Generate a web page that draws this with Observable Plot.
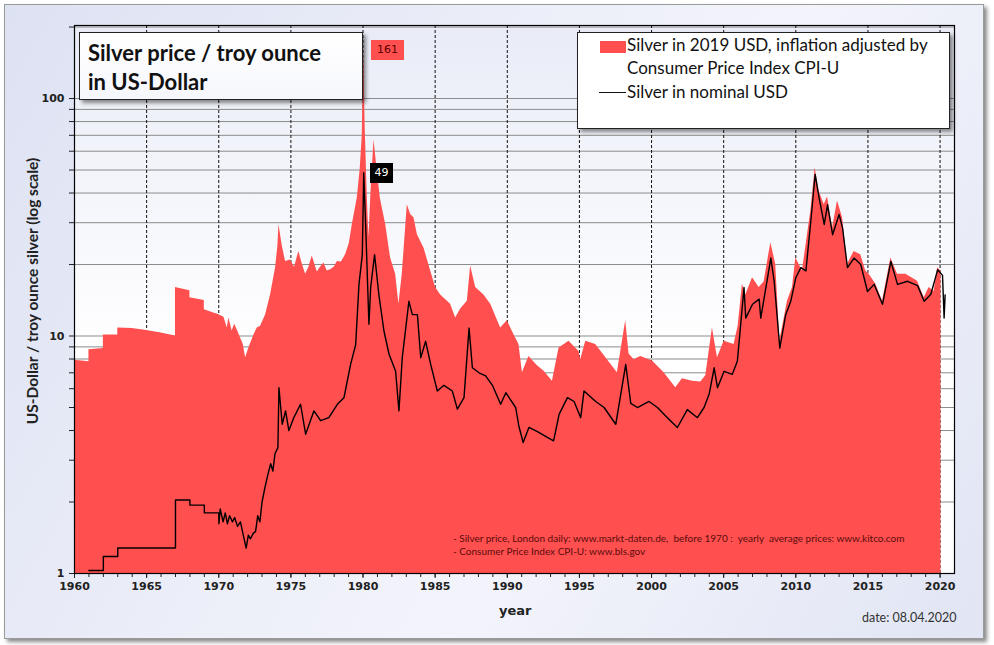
<!DOCTYPE html>
<html>
<head>
<meta charset="utf-8">
<script src="https://cdn.jsdelivr.net/npm/d3@7"></script>
<script src="https://cdn.jsdelivr.net/npm/@observablehq/plot@0.6"></script>
<style>
  body { margin: 0; background: #fff; font-family: Lato, "Open Sans", sans-serif; }
  #page { position: relative; width: 994px; height: 645px; overflow: hidden; }
  #frame {
    position: absolute; left: 4px; top: 4px; width: 978px; height: 633px;
    border: 1px solid #9a9a9a; box-shadow: 3px 3px 4px #8a8a8a;
    background: linear-gradient(120deg, #dde2f3 0%, #eef0f9 45%, #f3f4fb 60%, #e1e5f4 100%);
  }
  #plotbg {
    position: absolute; left: 74px; top: 25px; width: 880px; height: 548px;
    background: linear-gradient(180deg, #e9ecf7 0%, #f6f7fc 35%, #ffffff 60%);
  }
  #chart { position: absolute; left: 0; top: 0; }
  .box {
    position: absolute; background: linear-gradient(180deg, #ffffff, #f6f7fc);
    border: 1px solid #222; box-shadow: 3px 3px 4px rgba(0,0,0,0.45);
  }
  #title { left: 79px; top: 32px; width: 282px; height: 66px; }
  #title div { position: absolute; left: 8px; font: bold 22px Lato, sans-serif; color: #111; white-space: nowrap; }
  #legend { left: 577px; top: 32px; width: 371px; height: 95px; background: #fff; }
  #legend .t { position: absolute; left: 49px; font: 17px Lato, sans-serif; color: #111; white-space: nowrap; }
  .tag { position: absolute; font: 11px "DejaVu Sans", sans-serif; text-align: center; }
  #note { position: absolute; left: 453px; top: 532px; font: 10px Lato, sans-serif; color: #5a0c0c; line-height: 13px; white-space: nowrap; }
  #date { position: absolute; left: 862px; top: 610px; font: 12.5px Lato, sans-serif; color: #333; }
  #xlab { position: absolute; left: 499px; top: 603px; font: bold 13px "DejaVu Sans", sans-serif; color: #222; }
  #ylab { position: absolute; left: 32px; top: 291px; transform: translate(-50%, -50%) rotate(-90deg);
          white-space: nowrap; font: bold 15.5px Lato, sans-serif; color: #222; }
</style>
</head>
<body>
<div id="page">
  <div id="frame"></div>
  <div id="plotbg"></div>
  <div id="chart"></div>
  <div id="title" class="box">
    <div style="top:6px">Silver price / troy ounce</div>
    <div style="top:35px">in US-Dollar</div>
  </div>
  <div id="legend" class="box">
    <div style="position:absolute;left:22px;top:8px;width:26px;height:12px;background:#ff4f4f"></div>
    <div class="t" style="top:1px">Silver in 2019 USD, inflation adjusted by</div>
    <div class="t" style="top:24px">Consumer Price Index CPI-U</div>
    <div style="position:absolute;left:21px;top:59px;width:27px;height:1px;background:#111"></div>
    <div class="t" style="top:48px">Silver in nominal USD</div>
  </div>
  <div class="tag" style="left:371px;top:40px;width:33px;height:20px;line-height:20px;background:#ff4f4f;color:#5a0000">161</div>
  <div class="tag" style="left:370px;top:163px;width:23px;height:20px;line-height:20px;background:#000;color:#fff">49</div>
  <div id="note">- Silver price, London daily: www.markt-daten.de,&nbsp; before 1970 :&nbsp; yearly&nbsp; average prices: www.kitco.com<br>- Consumer Price Index CPI-U: www.bls.gov</div>
  <div id="xlab">year</div>
  <div id="ylab">US-Dollar / troy ounce silver (log scale)</div>
  <div id="date">date: 08.04.2020</div>
</div>
<script>
// Silber, inflationsbereinigt (2019 USD)
const realYear = [
  1960.0, 1961.0, 1961.0, 1962.0, 1962.0, 1963.0, 1963.0, 1964.0, 1965.0, 1966.0, 1967.0, 1967.0, 1968.0, 1968.0, 1969.0, 1969.0,
  1970.0, 1970.36, 1970.59, 1970.7, 1970.93, 1971.1, 1971.28, 1971.51, 1971.7, 1971.86, 1972.09, 1972.44, 1972.67, 1972.9,
  1973.25, 1973.59, 1973.94, 1974.1, 1974.17, 1974.4, 1974.63, 1974.98, 1975.25, 1975.55, 1975.8, 1976.02, 1976.25, 1976.48,
  1976.83, 1977.05, 1977.29, 1977.52, 1977.75, 1978.0, 1978.22, 1978.5, 1978.79, 1979.05, 1979.26, 1979.6, 1979.8, 1979.95,
  1980.05, 1980.15, 1980.3, 1980.41, 1980.55, 1980.76, 1980.95, 1981.2, 1981.57, 1981.91, 1982.26, 1982.49, 1982.72, 1983.07,
  1983.3, 1983.53, 1983.77, 1984.23, 1984.69, 1985.03, 1985.38, 1986.07, 1986.42, 1986.77, 1987.23, 1987.46, 1987.81, 1988.38,
  1988.85, 1989.54, 1990.0, 1990.47, 1990.81, 1991.05, 1991.5, 1992.09, 1992.55, 1993.13, 1993.59, 1994.28, 1994.97, 1995.09,
  1995.44, 1996.13, 1996.94, 1997.63, 1998.21, 1998.44, 1998.79, 1999.25, 2000.06, 2000.87, 2001.68, 2002.14, 2002.84, 2003.41,
  2003.76, 2004.22, 2004.57, 2005.03, 2005.72, 2006.0, 2006.3, 2006.53, 2007.0, 2007.46, 2007.8, 2008.27, 2008.61, 2008.89,
  2009.42, 2009.77, 2010.0, 2010.46, 2010.81, 2011.04, 2011.34, 2011.62, 2011.97, 2012.2, 2012.55, 2012.89, 2013.24, 2013.58,
  2014.04, 2014.5, 2014.85, 2015.08, 2015.55, 2016.01, 2016.59, 2017.05, 2017.63, 2018.44, 2018.9, 2019.24, 2019.59, 2019.83,
  2020.06
]
const realPrice = [
  7.9, 7.8, 8.75, 8.85, 10.1, 10.1, 10.8, 10.75, 10.55, 10.3, 10.0, 16.0, 15.5, 14.5, 14.1, 12.9,
  12.3, 12.0, 10.8, 11.9, 10.5, 11.2, 10.6, 9.8, 9.2, 8.1, 8.9, 10.1, 10.8, 11.0,
  12.3, 14.9, 19.4, 24, 29.5, 24, 20.6, 20.9, 19.5, 22.7, 20, 18.2, 19.5, 21.7,
  18.6, 19.5, 20.3, 18.8, 19, 19.5, 20.6, 20.5, 22, 24.5, 29.5, 38, 50, 70,
  161, 75, 38, 26, 40, 67, 52, 38, 29.5, 21.3, 18.2, 13.6, 18.2, 35.7,
  32.5, 31.5, 26.7, 23.4, 18.8, 16, 14.9, 13.6, 11.9, 13, 14, 19.7, 16, 14.9,
  13.6, 10.8, 11.6, 10.1, 9.2, 7.0, 8.2, 7.5, 7.1, 6.45, 8.9, 9.5, 8.6, 7.95,
  9.5, 9.2, 7.95, 7.0, 11.6, 8.4, 7.95, 8.2, 7.85, 7.0, 6.06, 6.6, 6.45, 6.4,
  6.8, 10.8, 8.1, 9.5, 9.2, 11, 16.5, 14.9, 17.6, 16, 16.9, 24.7, 20.0, 9.5,
  14, 16, 21.3, 18.8, 26.7, 33.5, 51, 40.6, 35.7, 38.5, 28.5, 37, 31.5, 20,
  22.7, 22, 18.8, 18.2, 16.5, 14, 21.3, 18.2, 18.2, 17.0, 14.5, 16, 15.4, 19.4,
  18.8
]

// Silber nominal USD
const nomYear = [
  1961.0, 1962.0, 1962.0, 1963.0, 1963.0, 1967.0, 1967.0, 1968.0, 1968.0, 1969.0, 1969.0, 1970.0,
  1970.01, 1970.1, 1970.3, 1970.45, 1970.6, 1970.75, 1970.95, 1971.1, 1971.3, 1971.5, 1971.7, 1971.9,
  1972.05, 1972.2, 1972.4, 1972.55, 1972.7, 1972.85, 1973.0, 1973.2, 1973.4, 1973.6, 1973.75, 1973.9,
  1974.1, 1974.17, 1974.4, 1974.63, 1974.86, 1975.2, 1975.67, 1976.02, 1976.6, 1977.06, 1977.63, 1978.22,
  1978.68, 1979.14, 1979.49, 1979.72, 1979.95, 1980.05, 1980.18, 1980.41, 1980.53, 1980.8, 1981.1, 1981.45,
  1981.8, 1982.26, 1982.49, 1982.72, 1983.18, 1983.42, 1983.77, 1984.0, 1984.34, 1984.69, 1985.15, 1985.61,
  1986.19, 1986.54, 1987.0, 1987.35, 1987.58, 1988.04, 1988.5, 1988.97, 1989.54, 1989.9, 1990.58, 1990.8,
  1991.1, 1991.5, 1992.09, 1992.78, 1993.21, 1993.59, 1994.17, 1994.63, 1995.09, 1995.32, 1996.13, 1996.71,
  1997.52, 1998.21, 1998.56, 1999.02, 1999.83, 2000.41, 2001.1, 2001.79, 2002.48, 2003.18, 2003.64, 2003.99,
  2004.34, 2004.57, 2005.03, 2005.6, 2005.95, 2006.41, 2006.53, 2007.0, 2007.46, 2007.57, 2008.27, 2008.5,
  2008.89, 2009.3, 2009.65, 2010.0, 2010.35, 2010.7, 2011.04, 2011.34, 2011.62, 2011.97, 2012.2, 2012.55,
  2013.0, 2013.24, 2013.58, 2014.04, 2014.5, 2014.97, 2015.43, 2016.01, 2016.59, 2017.05, 2017.75, 2018.44,
  2018.9, 2019.36, 2019.83, 2020.17, 2020.28, 2020.35
]
const nomPrice = [
  1.03, 1.03, 1.18, 1.18, 1.28, 1.28, 2.04, 2.04, 1.94, 1.94, 1.80, 1.80,
  1.62, 1.87, 1.65, 1.8, 1.62, 1.75, 1.65, 1.72, 1.58, 1.65, 1.45, 1.28,
  1.45, 1.4, 1.48, 1.5, 1.75, 1.65, 2.0, 2.3, 2.6, 2.9, 2.7, 3.2,
  3.39, 6.06, 4.25, 4.84, 4.0, 4.53, 5.16, 3.86, 4.84, 4.4, 4.53, 5.16,
  5.5, 7.6, 9.2, 16.5, 22, 48.7, 29.5, 11.2, 16, 22, 14.9, 10.5,
  8.4, 7.1, 4.84, 8.1, 14, 12.3, 12.3, 8.1, 9.5, 7.6, 5.87, 6.2,
  5.87, 4.92, 5.5, 10.8, 7.35, 7.0, 6.8, 6.2, 5.16, 5.77, 5.0, 4.18,
  3.56, 4.12, 3.96, 3.74, 3.62, 4.68, 5.5, 5.3, 4.53, 5.87, 5.3, 5.0,
  4.25, 7.6, 5.2, 5.0, 5.3, 5.0, 4.53, 4.12, 4.9, 4.53, 5.0, 5.68,
  7.35, 6.06, 7.1, 6.9, 7.85, 16, 11.9, 13.6, 14.3, 11.9, 21.3, 17,
  8.9, 12.3, 14, 17.6, 19.4, 18.8, 30.5, 47.9, 38, 29.5, 35.7, 26.7,
  32.5, 28.5, 19.4, 21.3, 20, 15.4, 16.5, 13.6, 20.6, 16.5, 17, 16.3,
  14, 15, 19, 18, 11.9, 14.9
]

// Achsen
const yearTicks = d3.range(1960, 2021)
const yearLabels = d3.range(1960, 2021, 5)
const dashedYears = d3.range(1965, 2021, 5)
const yLabels = [1, 10, 100]
const yMinor = [2, 3, 4, 5, 6, 7, 8, 9, 20, 30, 40, 50, 60, 70, 80, 90, 200]
const yGrid = [2, 3, 4, 5, 6, 7, 8, 9, 10, 20, 30, 40, 50, 60, 70, 80, 90, 100, 200]

const real = realYear.map((y, i) => ({year: y, price: realPrice[i]}))
const nominal = nomYear.map((y, i) => ({year: y, price: nomPrice[i]}))

const chart = Plot.plot({
  width: 994,
  height: 645,
  marginLeft: 74,
  marginRight: 40,
  marginTop: 25,
  marginBottom: 72,
  style: {background: 'transparent', fontFamily: '"DejaVu Sans", sans-serif', fontSize: '11px', color: '#222', overflow: 'visible'},
  x: {domain: [1960, 2021]},
  y: {type: 'log', domain: [1, 203]},
  marks: [
    Plot.ruleY(yGrid, {stroke: '#8c8c8c', strokeWidth: 1}),
    Plot.ruleX(dashedYears, {stroke: '#111', strokeDasharray: '3,2', strokeWidth: 1}),
    Plot.areaY(real, {x: 'year', y1: 1, y2: 'price', fill: '#ff4f4f'}),
    Plot.lineY(nominal, {x: 'year', y: 'price', stroke: '#000', strokeWidth: 1.4}),
    Plot.axisX(yearTicks, {tickSize: 4, tickFormat: () => '', label: null}),
    Plot.axisX(yearLabels, {tickSize: 5, tickPadding: 4, tickFormat: d => String(d), fontWeight: 'bold', label: null}),
    Plot.axisY(yMinor, {tickSize: 5, tickFormat: () => '', label: null}),
    Plot.axisY(yLabels, {tickSize: 5, tickPadding: 5, tickFormat: d => String(d), fontWeight: 'bold', label: null}),
    Plot.frame({stroke: '#000', strokeWidth: 1.2})
  ]
})

document.getElementById('chart').append(chart)
</script>
</body>
</html>
